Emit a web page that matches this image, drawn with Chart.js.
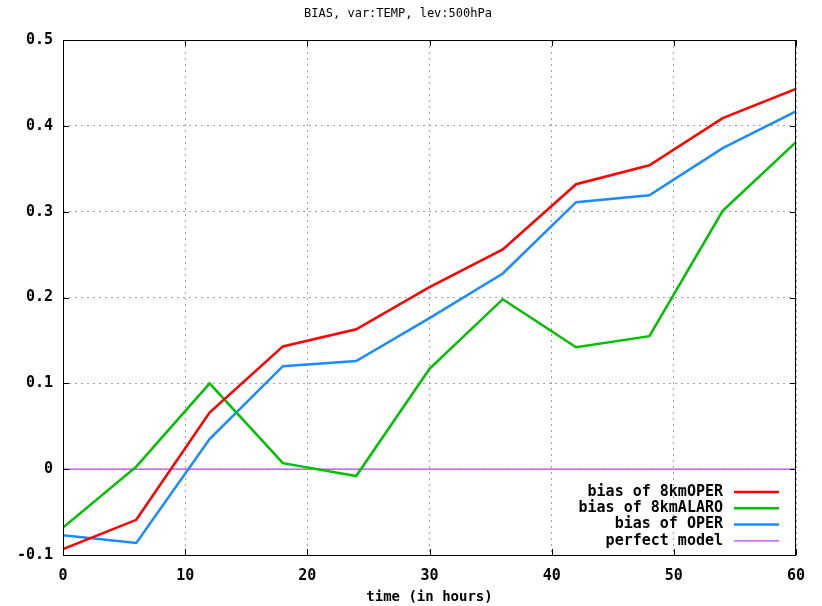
<!DOCTYPE html>
<html>
<head>
<meta charset="utf-8">
<script src="https://cdn.jsdelivr.net/npm/chart.js@4"></script>
<style>
  html, body { margin: 0; padding: 0; background: #fff; }
  #wrap { width: 822px; height: 606px; }
</style>
</head>
<body>
<div id="wrap"><canvas id="myChart"></canvas></div>
<script>
const hours = [0, 6, 12, 18, 24, 30, 36, 42, 48, 54, 60];
const bias8kmOper = [-0.093, -0.059, 0.066, 0.143, 0.163, 0.212, 0.256, 0.332, 0.354, 0.409, 0.443];
const bias8kmAlaro = [-0.068, 0.003, 0.100, 0.007, -0.008, 0.117, 0.198, 0.142, 0.155, 0.301, 0.381];
const biasOper = [-0.077, -0.086, 0.035, 0.120, 0.126, 0.176, 0.228, 0.311, 0.319, 0.374, 0.417];
const perfectModel = [0, 0, 0, 0, 0, 0, 0, 0, 0, 0, 0];

const MONO = "'DejaVu Sans Mono', 'Liberation Mono', monospace";

function pts(values) {
  return hours.map((h, i) => ({ x: h, y: values[i] }));
}

// gnuplot style: full frame, inward ticks, legend inside bottom right
const framePlugin = {
  id: "frame",
  afterDraw(chart) {
    const { ctx, chartArea: a, scales } = chart;
    ctx.save();
    ctx.strokeStyle = "#000";
    ctx.lineWidth = 1;
    ctx.strokeRect(a.left + 0.5, a.top + 0.5, a.right - a.left - 1, a.bottom - a.top);

    ctx.beginPath();
    scales.x.ticks.forEach((t) => {
      const px = Math.round(scales.x.getPixelForValue(t.value)) + 0.5;
      ctx.moveTo(px, a.bottom); ctx.lineTo(px, a.bottom - 6);
      ctx.moveTo(px, a.top); ctx.lineTo(px, a.top + 6);
    });
    scales.y.ticks.forEach((t) => {
      const py = Math.round(scales.y.getPixelForValue(t.value)) + 0.5;
      ctx.moveTo(a.left, py); ctx.lineTo(a.left + 6, py);
      ctx.moveTo(a.right, py); ctx.lineTo(a.right - 6, py);
    });
    ctx.stroke();

    // legend
    ctx.font = "bold 15px " + MONO;
    ctx.textAlign = "right";
    ctx.textBaseline = "middle";
    const lineEnd = a.right - 17;
    const lineStart = lineEnd - 45;
    chart.data.datasets.forEach((ds, i) => {
      const y = a.bottom - 63 + i * 16.3;
      ctx.fillStyle = "#000";
      ctx.fillText(ds.label, lineStart - 11, y);
      ctx.strokeStyle = ds.borderColor;
      ctx.lineWidth = ds.borderWidth;
      ctx.beginPath();
      ctx.moveTo(lineStart, y);
      ctx.lineTo(lineEnd, y);
      ctx.stroke();
    });
    ctx.restore();
  },
};

const ctx = document.getElementById("myChart");
new Chart(ctx, {
  type: "line",
  data: {
    datasets: [
      { label: "bias of 8kmOPER", data: pts(bias8kmOper), borderColor: "#ff0000", borderWidth: 2.5 },
      { label: "bias of 8kmALARO", data: pts(bias8kmAlaro), borderColor: "#00c000", borderWidth: 2.5 },
      { label: "bias of OPER", data: pts(biasOper), borderColor: "#1a8cff", borderWidth: 2.5 },
      { label: "perfect model", data: pts(perfectModel), borderColor: "#c040ff", borderWidth: 1.2 },
    ],
  },
  options: {
    responsive: true,
    maintainAspectRatio: false,
    animation: false,
    layout: { padding: { left: 0, right: 26, top: 0, bottom: 0 } },
    elements: { point: { radius: 0 }, line: { tension: 0 } },
    plugins: {
      legend: { display: false },
      tooltip: { enabled: false },
      title: {
        display: true,
        text: "BIAS, var:TEMP, lev:500hPa",
        color: "#000",
        font: { family: MONO, size: 12, weight: "normal" },
        padding: { top: 7, bottom: 18.6 },
      },
    },
    scales: {
      x: {
        type: "linear",
        min: 0,
        max: 60,
        ticks: { stepSize: 10, color: "#000", font: { family: MONO, size: 15, weight: "bold" }, padding: 12 },
        grid: { color: "#a0a0a0", drawTicks: false },
        border: { display: false, dash: [2, 4] },
        title: {
          display: true,
          text: "time (in hours)",
          color: "#000",
          font: { family: MONO, size: 14, weight: "bold" },
          padding: { top: 2, bottom: 0 },
        },
        afterFit(scale) { scale.height = 51; },
      },
      y: {
        min: -0.1,
        max: 0.5,
        ticks: {
          stepSize: 0.1,
          color: "#000",
          font: { family: MONO, size: 15, weight: "bold" },
          padding: 10,
          callback: (v) => String(Number(v.toFixed(1))),
        },
        grid: { color: "#a0a0a0", drawTicks: false },
        border: { display: false, dash: [2, 4] },
        afterFit(scale) { scale.width = 63; },
      },
    },
  },
  plugins: [framePlugin],
});
</script>
</body>
</html>
